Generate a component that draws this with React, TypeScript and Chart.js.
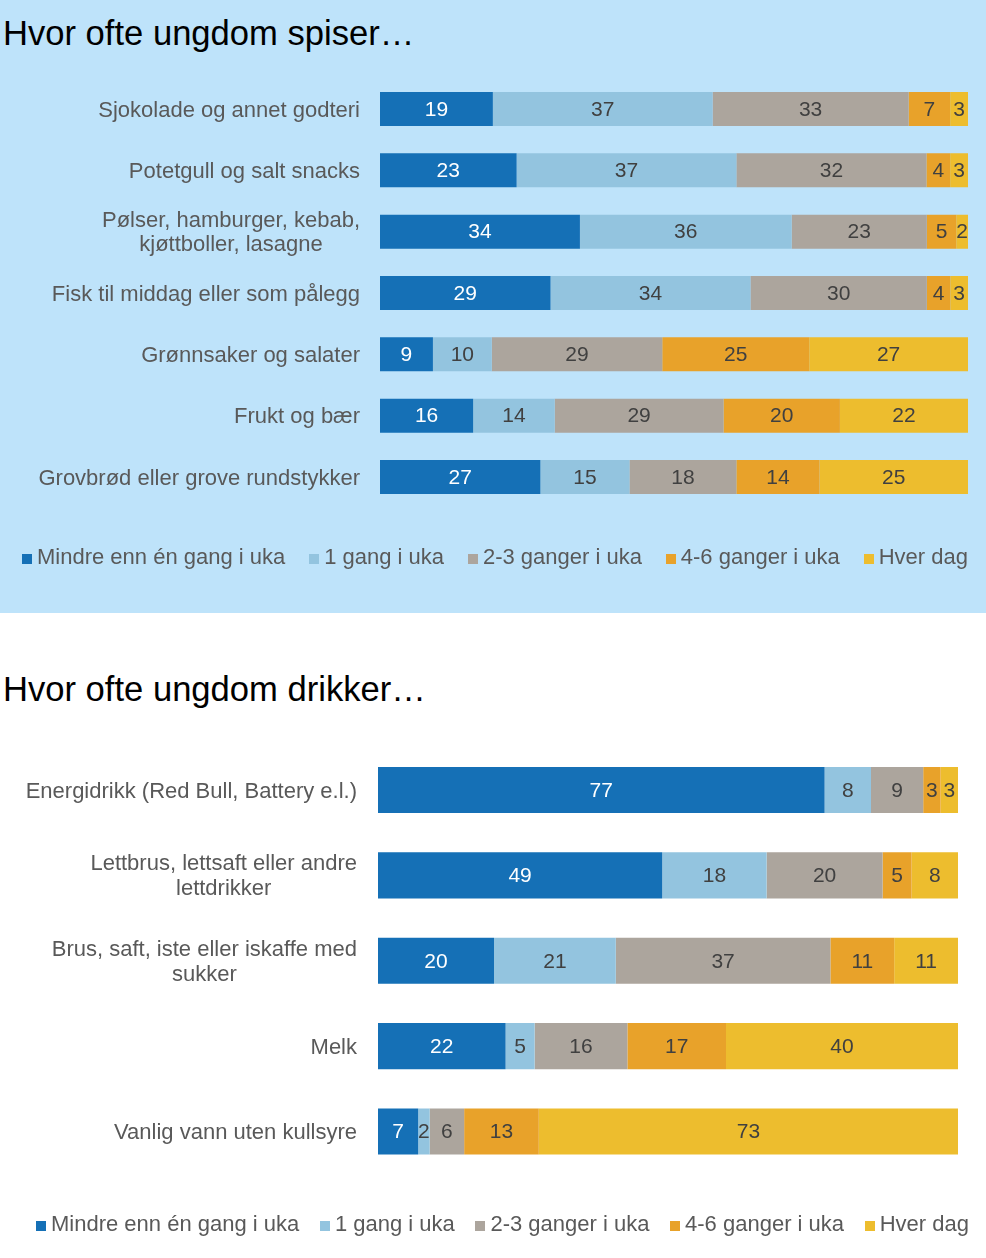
import React, { useEffect, useRef } from "react";
import { Chart, registerables } from "chart.js";

Chart.register(...registerables);

const FONT = '"Liberation Sans", Arial, Helvetica, sans-serif';

const SERIES_LABELS = [
  "Mindre enn én gang i uka",
  "1 gang i uka",
  "2-3 ganger i uka",
  "4-6 ganger i uka",
  "Hver dag",
];
const SERIES_COLORS = ["#1570B6", "#93C4DF", "#ACA59D", "#E8A22A", "#EDBD2E"];

// ---- Chart 1: food ----
const EAT_TITLE = "Hvor ofte ungdom spiser…";
const EAT_CATEGORIES: (string | string[])[] = [
  "Sjokolade og annet godteri",
  "Potetgull og salt snacks",
  ["Pølser, hamburger, kebab,", "kjøttboller, lasagne"],
  "Fisk til middag eller som pålegg",
  "Grønnsaker og salater",
  "Frukt og bær",
  "Grovbrød eller grove rundstykker",
];
const EAT_LESS_THAN_WEEKLY = [19, 23, 34, 29, 9, 16, 27];
const EAT_ONCE_A_WEEK = [37, 37, 36, 34, 10, 14, 15];
const EAT_2_3_A_WEEK = [33, 32, 23, 30, 29, 29, 18];
const EAT_4_6_A_WEEK = [7, 4, 5, 4, 25, 20, 14];
const EAT_DAILY = [3, 3, 2, 3, 27, 22, 25];

// ---- Chart 2: drinks ----
const DRINK_TITLE = "Hvor ofte ungdom drikker…";
const DRINK_CATEGORIES: (string | string[])[] = [
  "Energidrikk (Red Bull, Battery e.l.)",
  ["Lettbrus, lettsaft eller andre", "lettdrikker"],
  ["Brus, saft, iste eller iskaffe med", "sukker"],
  "Melk",
  "Vanlig vann uten kullsyre",
];
const DRINK_LESS_THAN_WEEKLY = [77, 49, 20, 22, 7];
const DRINK_ONCE_A_WEEK = [8, 18, 21, 5, 2];
const DRINK_2_3_A_WEEK = [9, 20, 37, 16, 6];
const DRINK_4_6_A_WEEK = [3, 5, 11, 17, 13];
const DRINK_DAILY = [3, 8, 11, 40, 73];

type BarProps = {
  categories: (string | string[])[];
  series: number[][];
  width: number;
  height: number;
  padTop: number;
  padBottom: number;
  padRight: number;
  axisWidth: number;
  labelGap: number;
  barPercentage: number;
  lineHeight: number;
};

function StackedBar(props: BarProps) {
  const ref = useRef<HTMLCanvasElement | null>(null);
  useEffect(() => {
    const canvas = ref.current;
    if (!canvas) return;
    const { categories, series } = props;
    const totals = categories.map((_, i) =>
      series.reduce((acc, s) => acc + s[i], 0)
    );

    const labelPlugin = {
      id: "catLabels",
      afterDraw(chart: any) {
        const ctx = chart.ctx;
        const yScale = chart.scales.y;
        ctx.save();
        ctx.font = `22px ${FONT}`;
        ctx.fillStyle = "#595959";
        ctx.textAlign = "center";
        ctx.textBaseline = "middle";
        categories.forEach((cat, i) => {
          const lines = Array.isArray(cat) ? cat : [cat];
          const w = Math.max(...lines.map((l) => ctx.measureText(l).width));
          const right = chart.chartArea.left - props.labelGap;
          const cx = right - w / 2;
          const cy = yScale.getPixelForValue(i) + 1.5;
          lines.forEach((l, j) => {
            ctx.fillText(
              l,
              cx,
              cy + (j - (lines.length - 1) / 2) * props.lineHeight
            );
          });
        });
        ctx.restore();
      },
    };

    const valuePlugin = {
      id: "valueLabels",
      afterDatasetsDraw(chart: any) {
        const ctx = chart.ctx;
        ctx.save();
        ctx.font = `21px ${FONT}`;
        ctx.textAlign = "center";
        ctx.textBaseline = "middle";
        chart.data.datasets.forEach((ds: any, d: number) => {
          const meta = chart.getDatasetMeta(d);
          ctx.fillStyle = d === 0 ? "#FFFFFF" : "#404040";
          meta.data.forEach((bar: any, i: number) => {
            const cx = (bar.x + bar.base) / 2;
            ctx.fillText(String(series[d][i]), cx, bar.y + 1);
          });
        });
        ctx.restore();
      },
    };

    const chart = new Chart(canvas, {
      type: "bar",
      data: {
        labels: categories as any,
        datasets: series.map((vals, s) => ({
          label: SERIES_LABELS[s],
          data: vals.map((v, i) => (v / totals[i]) * 100),
          backgroundColor: SERIES_COLORS[s],
          borderWidth: 0,
          barPercentage: props.barPercentage,
          categoryPercentage: 1,
        })),
      },
      options: {
        indexAxis: "y",
        responsive: false,
        animation: false,
        layout: {
          padding: {
            top: props.padTop,
            bottom: props.padBottom,
            right: props.padRight,
            left: 0,
          },
        },
        plugins: {
          legend: { display: false },
          tooltip: { enabled: false },
          title: { display: false },
        },
        scales: {
          x: { stacked: true, min: 0, max: 100, display: false },
          y: {
            stacked: true,
            grid: { display: false, drawTicks: false },
            border: { display: false },
            ticks: { display: false },
            afterFit: (scale: any) => {
              scale.width = props.axisWidth;
            },
          },
        },
      } as any,
      plugins: [labelPlugin, valuePlugin],
    });
    return () => chart.destroy();
  }, []);
  return (
    <canvas
      ref={ref}
      width={props.width}
      height={props.height}
      style={{ display: "block", width: props.width, height: props.height }}
    />
  );
}

function Legend({ left, top, width }: { left: number; top: number; width: number }) {
  return (
    <div
      style={{
        position: "absolute",
        left,
        top,
        width,
        height: 26,
        display: "flex",
        justifyContent: "space-between",
        alignItems: "center",
        fontFamily: FONT,
        fontSize: 22,
        lineHeight: "26px",
        color: "#595959",
        whiteSpace: "nowrap",
      }}
    >
      {SERIES_LABELS.map((lab, i) => (
        <div key={lab} style={{ display: "flex", alignItems: "center" }}>
          <span
            style={{
              display: "inline-block",
              width: 10,
              height: 10,
              background: SERIES_COLORS[i],
              marginRight: 5,
              marginTop: 4,
            }}
          />
          <span>{lab}</span>
        </div>
      ))}
    </div>
  );
}

const titleStyle: React.CSSProperties = {
  position: "absolute",
  left: 3,
  fontFamily: FONT,
  fontSize: 34.6,
  lineHeight: "40px",
  color: "#000",
  whiteSpace: "nowrap",
};

export default function App() {
  return (
    <div
      style={{
        position: "absolute",
        left: 0,
        top: 0,
        width: 986,
        height: 1258,
        background: "#FFFFFF",
        overflow: "hidden",
      }}
    >
      <div
        style={{
          position: "absolute",
          left: 0,
          top: 0,
          width: 986,
          height: 613,
          background: "#BEE3FA",
        }}
      />
      <div style={{ ...titleStyle, top: 13 }}>{EAT_TITLE}</div>
      <div style={{ position: "absolute", left: 0, top: 60 }}>
        <StackedBar
          categories={EAT_CATEGORIES}
          series={[
            EAT_LESS_THAN_WEEKLY,
            EAT_ONCE_A_WEEK,
            EAT_2_3_A_WEEK,
            EAT_4_6_A_WEEK,
            EAT_DAILY,
          ]}
          width={986}
          height={552}
          padTop={18.3}
          padBottom={104.3}
          padRight={18}
          axisWidth={380}
          labelGap={20}
          barPercentage={0.555}
          lineHeight={24}
        />
      </div>
      <Legend left={22} top={544} width={946} />

      <div style={{ ...titleStyle, top: 669 }}>{DRINK_TITLE}</div>
      <div style={{ position: "absolute", left: 0, top: 720 }}>
        <StackedBar
          categories={DRINK_CATEGORIES}
          series={[
            DRINK_LESS_THAN_WEEKLY,
            DRINK_ONCE_A_WEEK,
            DRINK_2_3_A_WEEK,
            DRINK_4_6_A_WEEK,
            DRINK_DAILY,
          ]}
          width={986}
          height={538}
          padTop={27.3}
          padBottom={83.8}
          padRight={28}
          axisWidth={378}
          labelGap={21}
          barPercentage={0.54}
          lineHeight={25}
        />
      </div>
      <Legend left={36} top={1211} width={933} />
    </div>
  );
}
